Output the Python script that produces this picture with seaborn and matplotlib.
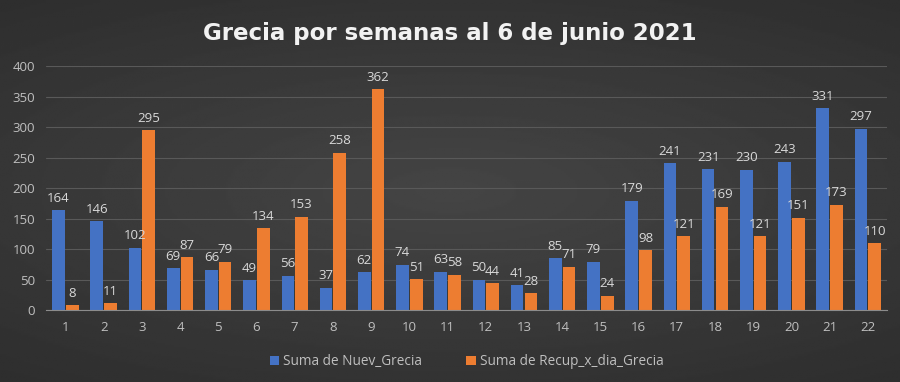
import numpy as np
import pandas as pd
import matplotlib
matplotlib.use("Agg")
import matplotlib.pyplot as plt
import seaborn as sns

semanas = [str(i) for i in range(1, 23)]
nuev_grecia = [164, 146, 102, 69, 66, 49, 56, 37, 62, 74, 63, 50, 41, 85, 79, 179, 241, 231, 230, 243, 331, 297]
recup_grecia = [8, 11, 295, 87, 79, 134, 153, 258, 362, 51, 58, 44, 28, 71, 24, 98, 121, 169, 121, 151, 173, 110]
series = ["Suma de Nuev_Grecia", "Suma de Recup_x_dia_Grecia"]
colores = ["#4472C4", "#ED7D31"]
y_ticks = [0, 50, 100, 150, 200, 250, 300, 350, 400]

df = pd.DataFrame({
    "Semana": semanas * 2,
    "Valor": nuev_grecia + recup_grecia,
    "Serie": [series[0]] * len(semanas) + [series[1]] * len(semanas),
})

sns.set_style("dark")
plt.rcParams["font.family"] = ["Open Sans", "DejaVu Sans"]

fig = plt.figure(figsize=(9, 3.82), dpi=100)

# dark background, lighter in the middle
bg = fig.add_axes([0, 0, 1, 1], zorder=-10)
yy, xx = np.mgrid[-1:1:200j, -1:1:400j]
r = np.sqrt((xx * 0.8) ** 2 + (yy * 1.0) ** 2)
bg.imshow(0.27 - 0.07 * r, cmap="gray", vmin=0, vmax=1, aspect="auto", extent=[0, 1, 0, 1])
bg.axis("off")

ax = fig.add_axes([0.0515, 0.188, 0.934, 0.639])
ax.set_facecolor("none")
sns.barplot(data=df, x="Semana", y="Valor", hue="Serie", palette=colores,
            width=0.72, gap=0.08, ax=ax, saturation=1, linewidth=0, edgecolor="none")

for cont in ax.containers:
    ax.bar_label(cont, fmt="%d", padding=4, color="#d9d9d9", fontsize=9.5)

ax.set_ylim(0, 400)
ax.set_yticks(y_ticks)
ax.set_xlim(-0.5, len(semanas) - 0.5)
ax.grid(axis="y", color="#595959", linewidth=0.8)
ax.grid(axis="x", visible=False)
ax.set_axisbelow(True)
for s in ["top", "right", "left"]:
    ax.spines[s].set_visible(False)
ax.spines["bottom"].set_color("#8c8c8c")
ax.tick_params(axis="both", colors="#bfbfbf", labelsize=9.5, length=0)
ax.tick_params(axis="x", pad=8)
ax.tick_params(axis="y", pad=8)
ax.set_xlabel("")
ax.set_ylabel("")

leg = ax.legend(loc="upper center", bbox_to_anchor=(0.5, -0.13), ncol=2, frameon=False,
                fontsize=9.8, handlelength=0.7, handleheight=0.7, handletextpad=0.3,
                columnspacing=3.2)
for t in leg.get_texts():
    t.set_color("#bfbfbf")

fig.text(0.5, 0.912, "Grecia por semanas al 6 de junio 2021", ha="center", va="center",
         color="#f2f2f2", fontsize=16.5, fontweight="bold", family="DejaVu Sans")

fig.savefig("out.png", dpi=100)
